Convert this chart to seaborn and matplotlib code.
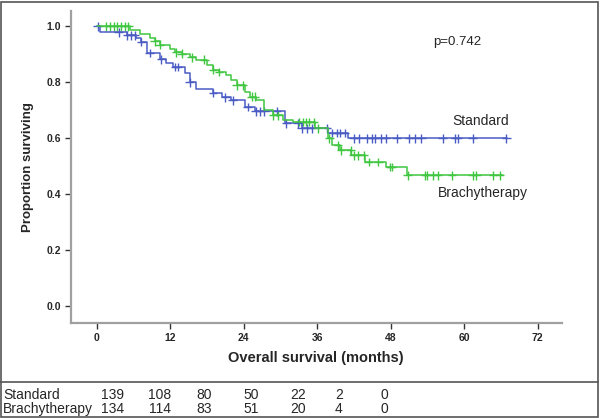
import numpy as np
import pandas as pd
import matplotlib
matplotlib.use("Agg")
import matplotlib.pyplot as plt
import seaborn as sns

# -------------------------------
# Data
# -------------------------------
std_times = [0, 0.5, 4.9, 6.5, 7.3, 8.2, 10.3, 11.3, 12.4, 14.4, 15.2, 16.3,
             19.0, 20.4, 22.0, 24.2, 25.8, 30.7, 33.5, 37.7, 41.0, 67.0]
std_surv = [1.0, 0.979, 0.968, 0.957, 0.944, 0.905, 0.882, 0.868, 0.855, 0.832, 0.80, 0.775,
            0.762, 0.746, 0.736, 0.712, 0.696, 0.653, 0.636, 0.619, 0.60, 0.60]

brachy_times = [0, 5.4, 7.1, 8.7, 9.5, 10.3, 12.0, 12.8, 13.9, 15.2, 16.3, 18.1,
                19.0, 20.0, 21.2, 22.0, 22.9, 24.2, 25.0, 26.0, 27.4, 28.8, 30.4,
                32.0, 35.6, 37.7, 38.5, 39.7, 41.6, 43.8, 47.3, 50.6, 66.3]
brachy_surv = [1.0, 0.986, 0.974, 0.96, 0.946, 0.934, 0.918, 0.908, 0.902, 0.89, 0.881, 0.861,
               0.845, 0.837, 0.825, 0.807, 0.789, 0.765, 0.748, 0.736, 0.70, 0.682, 0.664,
               0.658, 0.636, 0.60, 0.575, 0.557, 0.539, 0.515, 0.497, 0.468, 0.468]

std_censor = [0.2, 3.6, 5.0, 5.6, 6.2, 7.3, 8.7, 10.6, 12.8, 13.3, 15.2, 19.0, 21.0, 22.2,
              24.7, 26.0, 26.6, 27.4, 29.4, 31.0, 32.8, 33.5, 34.4, 35.1, 37.6, 38.5,
              39.2, 39.7, 40.5, 42.0, 42.8, 44.2, 45.0, 45.5, 46.5, 47.2, 49.0, 51.0,
              52.0, 53.0, 56.5, 58.5, 59.0, 61.4, 66.9]
brachy_censor = [1.5, 2.2, 2.8, 3.3, 4.0, 4.6, 5.2, 9.5, 10.3, 13.0, 13.9, 15.5, 17.6, 19.0,
                 20.0, 22.9, 23.9, 25.3, 25.8, 28.8, 29.6, 33.1, 33.7, 34.2, 34.7, 35.5,
                 36.1, 38.0, 39.4, 39.9, 41.5, 42.0, 42.6, 43.6, 44.4, 46.0, 47.9, 48.2,
                 50.8, 53.6, 54.0, 54.9, 55.7, 58.0, 61.4, 62.0, 64.7, 65.8]

arms = ["Standard", "Brachytherapy"]
colors = {"Standard": "#4a5cc4", "Brachytherapy": "#40c640"}

x_ticks = [0, 12, 24, 36, 48, 60, 72]
y_ticks = [0.0, 0.2, 0.4, 0.6, 0.8, 1.0]

at_risk_std = [139, 108, 80, 50, 22, 2, 0]
at_risk_brachy = [134, 114, 83, 51, 20, 4, 0]

# -------------------------------
# Build tables
# -------------------------------
curves = pd.concat([
    pd.DataFrame({"t": std_times, "s": std_surv, "arm": "Standard"}),
    pd.DataFrame({"t": brachy_times, "s": brachy_surv, "arm": "Brachytherapy"}),
])


def surv_at(times, surv, c):
    idx = np.searchsorted(times, c, side="right") - 1
    return np.asarray(surv)[idx]


censors = pd.concat([
    pd.DataFrame({"t": std_censor, "s": surv_at(std_times, std_surv, std_censor),
                  "arm": "Standard"}),
    pd.DataFrame({"t": brachy_censor, "s": surv_at(brachy_times, brachy_surv, brachy_censor),
                  "arm": "Brachytherapy"}),
])

# -------------------------------
# Plot
# -------------------------------
sns.set_style("white")
plt.rcParams["font.family"] = ["Liberation Sans", "DejaVu Sans"]

fig = plt.figure(figsize=(6, 4.18), dpi=100)
ax = fig.add_axes([0.118, 0.227, 0.818, 0.746])

sns.lineplot(data=curves, x="t", y="s", hue="arm", palette=colors, hue_order=arms,
             drawstyle="steps-post", estimator=None, legend=False, linewidth=1.1, ax=ax)
sns.scatterplot(data=censors, x="t", y="s", hue="arm", palette=colors, hue_order=arms,
                marker="+", s=40, linewidth=1.0, legend=False, ax=ax)

ax.set_xlim(-4.2, 75.9)
ax.set_ylim(-0.061, 1.054)
ax.set_xticks(x_ticks)
ax.set_yticks(y_ticks)
ax.set_xticklabels([str(v) for v in x_ticks], fontsize=7.5, fontweight="bold")
ax.set_yticklabels([f"{v:.1f}" for v in y_ticks], fontsize=7.5, fontweight="bold")
ax.tick_params(axis="both", direction="out", length=4, width=1, color="#333333", pad=3,
               bottom=True, left=True)

for side in ["top", "right"]:
    ax.spines[side].set_visible(False)
for side in ["left", "bottom"]:
    ax.spines[side].set_color("#a0a0a0")
    ax.spines[side].set_linewidth(1.6)

ax.set_xlabel("Overall survival (months)", fontsize=10.5, fontweight="bold", labelpad=6)
ax.set_ylabel("Proportion surviving", fontsize=9.5, fontweight="bold", labelpad=9)

ax.text(54.9, 0.943, "p=0.742", fontsize=9.5, va="center", ha="left")
ax.text(58.0, 0.661, "Standard", fontsize=10, va="center", ha="left")
ax.text(55.7, 0.404, "Brachytherapy", fontsize=10, va="center", ha="left")

# -------------------------------
# Frame and number-at-risk table
# -------------------------------
fig.add_artist(plt.Rectangle((0.002, 0.002), 0.994, 0.994, transform=fig.transFigure,
                             fill=False, edgecolor="#555555", linewidth=1.2))
fig.add_artist(plt.Line2D([0.0, 0.997], [1 - 382 / 418, 1 - 382 / 418],
                          transform=fig.transFigure, color="#555555", linewidth=1.2))

col_x = [113, 160, 204, 251, 298, 339, 384]
rows = [("Standard", at_risk_std, 395), ("Brachytherapy", at_risk_brachy, 409)]
for name, vals, ypx in rows:
    fig.text(3 / 600, 1 - ypx / 418, name, fontsize=10, va="center", ha="left")
    for cx, v in zip(col_x, vals):
        fig.text(cx / 600, 1 - ypx / 418, str(v), fontsize=10, va="center", ha="center")

fig.savefig("out.png", dpi=100)
